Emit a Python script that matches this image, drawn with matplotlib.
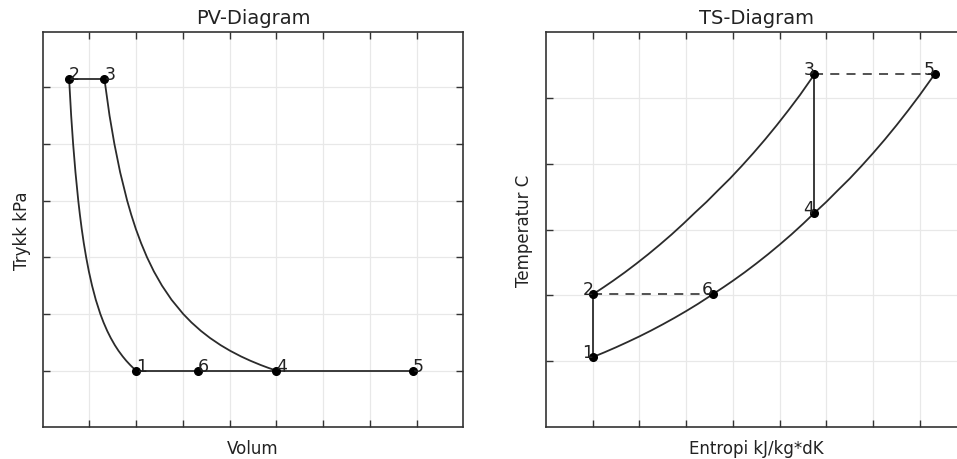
import matplotlib
matplotlib.use('Agg')
import matplotlib.pyplot as plt

# ---------------- data ----------------
point_labels = ['1', '2', '3', '4', '5', '6']

# PV diagram state points (axis units)
pv_V = [2.0, 0.565, 1.32, 5.0, 7.92, 3.32]
pv_P = [1.0, 6.15, 6.15, 1.0, 1.0, 1.0]

# compression 1 -> 2
comp_V = [2.0, 1.933, 1.871, 1.787, 1.712, 1.622, 1.543, 1.457, 1.381, 1.302,
          1.233, 1.136, 1.056, 0.988, 0.930, 0.879, 0.835, 0.796, 0.761,
          0.701, 0.651, 0.609, 0.565]
comp_P = [1.0, 1.05, 1.1, 1.175, 1.25, 1.35, 1.45, 1.575, 1.7, 1.85,
          2.0, 2.25, 2.5, 2.75, 3.0, 3.25, 3.5, 3.75, 4.0,
          4.5, 5.0, 5.5, 6.15]
# expansion 3 -> 4
exp_V = [5.0, 4.824, 4.662, 4.442, 4.244, 4.011, 3.806, 3.582, 3.387, 3.183,
         3.006, 2.757, 2.552, 2.379, 2.232, 2.105, 1.993, 1.895, 1.807,
         1.657, 1.534, 1.430, 1.32]
exp_P = [1.0, 1.05, 1.1, 1.175, 1.25, 1.35, 1.45, 1.575, 1.7, 1.85,
         2.0, 2.25, 2.5, 2.75, 3.0, 3.25, 3.5, 3.75, 4.0,
         4.5, 5.0, 5.5, 6.15]

# TS diagram state points
ts_S = [1.013, 1.013, 5.745, 5.745, 8.315, 3.576]
ts_T = [1.068, 2.021, 5.354, 3.252, 5.354, 2.021]

# upper curve 2 -> 3
up_S = [1.013, 1.237, 1.437, 1.687, 1.937, 2.187, 2.437, 2.687, 2.937, 3.182,
        3.437, 3.687, 3.937, 4.187, 4.437, 4.687, 4.937, 5.187, 5.437, 5.745]
up_T = [2.021, 2.126, 2.223, 2.350, 2.484, 2.624, 2.771, 2.924, 3.086, 3.252,
        3.420, 3.598, 3.773, 3.962, 4.159, 4.365, 4.581, 4.807, 5.042, 5.354]
# lower curve 1 -> 6 -> 4 -> 5
low_S = [1.013, 1.25, 1.5, 1.75, 2.0, 2.25, 2.5, 2.75, 3.0, 3.25, 3.576,
         3.8, 4.0, 4.25, 4.5, 4.75, 5.0, 5.25, 5.5, 5.745,
         6.0, 6.25, 6.5, 6.75, 7.0, 7.25, 7.5, 7.75, 8.0, 8.315]
low_T = [1.068, 1.137, 1.214, 1.295, 1.379, 1.468, 1.562, 1.660, 1.763, 1.871, 2.021,
         2.126, 2.223, 2.350, 2.484, 2.624, 2.771, 2.924, 3.086, 3.252,
         3.420, 3.598, 3.773, 3.962, 4.159, 4.365, 4.581, 4.807, 5.042, 5.354]

pv_xticks = [1, 2, 3, 4, 5, 6, 7, 8]
pv_yticks = [1, 2, 3, 4, 5, 6]
ts_xticks = [1, 2, 3, 4, 5, 6, 7, 8]
ts_yticks = [1, 2, 3, 4, 5]

# ---------------- styling ----------------
LC = '#2b2b2b'
TC = '#222222'

fig = plt.figure(figsize=(9.57, 4.6), dpi=100)
W, H = 957.0, 460.0
ax1 = fig.add_axes([42.7 / W, (H - 428.3) / H, 420.6 / W, 395.6 / H])
ax2 = fig.add_axes([546.0 / W, (H - 428.3) / H, 420.6 / W, 395.6 / H])


def style(ax, xt, yt, xlim, ylim):
    ax.set_xlim(*xlim)
    ax.set_ylim(*ylim)
    ax.set_xticks(xt)
    ax.set_yticks(yt)
    ax.set_xticklabels([])
    ax.set_yticklabels([])
    ax.tick_params(direction='in', top=True, right=True, length=5, width=1,
                   color='#333333')
    ax.grid(True, color='#e8e8e8', linewidth=0.9)
    ax.set_axisbelow(True)
    for sp in ax.spines.values():
        sp.set_color('#333333')
        sp.set_linewidth(1.2)


style(ax1, pv_xticks, pv_yticks, (0, 9), (0, 6.98))
style(ax2, ts_xticks, ts_yticks, (0, 9), (0, 6.0))

# PV diagram
ax1.plot(comp_V, comp_P, color=LC, lw=1.3)
ax1.plot(exp_V, exp_P, color=LC, lw=1.3)
ax1.plot([pv_V[1], pv_V[2]], [pv_P[1], pv_P[2]], color=LC, lw=1.3)
ax1.plot([pv_V[0], pv_V[5], pv_V[3], pv_V[4]],
         [pv_P[0], pv_P[5], pv_P[3], pv_P[4]], color=LC, lw=1.3)
ax1.plot(pv_V, pv_P, 'o', color='black', markersize=5.5, linestyle='none')
for lab, v, p in zip(point_labels, pv_V, pv_P):
    ax1.text(v, p, lab, fontsize=12.5, color=TC, ha='left', va='baseline')

ax1.set_title('PV-Diagram', fontsize=14, color=TC, pad=6)
ax1.set_xlabel('Volum', fontsize=12, color=TC, labelpad=5)
ax1.set_ylabel('Trykk kPa', fontsize=12, color=TC, labelpad=5)

# TS diagram
ax2.plot([ts_S[0], ts_S[1]], [ts_T[0], ts_T[1]], color=LC, lw=1.3)
ax2.plot(up_S, up_T, color=LC, lw=1.3)
ax2.plot([ts_S[2], ts_S[3]], [ts_T[2], ts_T[3]], color=LC, lw=1.3)
ax2.plot(low_S, low_T, color=LC, lw=1.3)
ax2.plot([ts_S[1], ts_S[5]], [ts_T[1], ts_T[5]], color='#444444', lw=1.3,
         linestyle=(0, (5, 4)))
ax2.plot([ts_S[2], ts_S[4]], [ts_T[2], ts_T[4]], color='#444444', lw=1.3,
         linestyle=(0, (5, 4)))
ax2.plot(ts_S, ts_T, 'o', color='black', markersize=5.5, linestyle='none')
for lab, s, t in zip(point_labels, ts_S, ts_T):
    ax2.text(s, t, lab, fontsize=12.5, color=TC, ha='right', va='baseline')

ax2.set_title('TS-Diagram', fontsize=14, color=TC, pad=6)
ax2.set_xlabel('Entropi kJ/kg*dK', fontsize=12, color=TC, labelpad=5)
ax2.set_ylabel('Temperatur C', fontsize=12, color=TC, labelpad=6)

fig.savefig('out.png', dpi=100)
